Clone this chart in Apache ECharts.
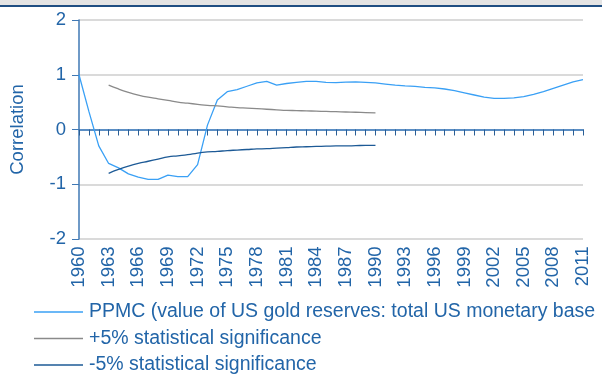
<!DOCTYPE html>
<html><head><meta charset="utf-8">
<script src="https://cdn.jsdelivr.net/npm/echarts@6/dist/echarts.min.js"></script>
<style>html,body{margin:0;padding:0;background:#fff}#c{width:602px;height:374px}</style>
</head><body><div id="c"></div>
<script>
var years = [];
for (var y = 1960; y <= 2011; y++) years.push(String(y));

var ppmc = [1.0, 0.33, -0.30, -0.62, -0.70, -0.81, -0.87, -0.91, -0.91, -0.835, -0.86, -0.86, -0.64, 0.08,
  0.54, 0.69, 0.73, 0.79, 0.85, 0.88, 0.81, 0.84, 0.86, 0.88, 0.878, 0.86, 0.855, 0.865, 0.87, 0.86,
  0.85, 0.83, 0.81, 0.795, 0.786, 0.77, 0.76, 0.74, 0.71, 0.67, 0.63, 0.59, 0.57, 0.57, 0.576, 0.60,
  0.64, 0.69, 0.75, 0.81, 0.87, 0.91];

var plus5 = [null, null, null, 0.81, 0.74, 0.68, 0.63, 0.59, 0.56, 0.53, 0.50, 0.48, 0.46, 0.44, 0.43,
  0.415, 0.40, 0.39, 0.38, 0.37, 0.36, 0.35, 0.345, 0.34, 0.335, 0.33, 0.325, 0.32, 0.315, 0.31, 0.305];

var minus5 = [null, null, null, -0.80, -0.73, -0.67, -0.62, -0.58, -0.54, -0.50, -0.48, -0.46, -0.43,
  -0.41, -0.40, -0.385, -0.375, -0.365, -0.355, -0.35, -0.34, -0.33, -0.32, -0.315, -0.31, -0.305,
  -0.30, -0.30, -0.295, -0.29, -0.29];

var seriesNames = ['PPMC (value of US gold reserves: total US monetary base',
  '+5% statistical significance', '-5% statistical significance'];
var yTicks = { min: -2, max: 2, interval: 1 };

var FONT = "'Liberation Sans', Arial, Helvetica, sans-serif";
var LABEL = '#2265a8';

var chart = echarts.init(document.getElementById('c'), null, { renderer: 'canvas' });
chart.setOption({
  animation: false,
  textStyle: { fontFamily: FONT },
  graphic: [
    { type: 'rect', shape: { x: 0, y: 0, width: 602, height: 5 }, style: { fill: '#e4e4e4' } },
    { type: 'rect', shape: { x: 0, y: 5, width: 602, height: 2 }, style: { fill: '#1f4e82' } }
  ],
  grid: { left: 77, right: 19, top: 20, bottom: 135, containLabel: false },
  legend: {
    orient: 'vertical', left: 34, top: 301, height: 80, padding: 0,
    icon: 'rect', itemWidth: 49, itemHeight: 1.3, itemGap: 4.5,
    textStyle: { fontFamily: FONT, fontSize: 19.5, color: LABEL, lineHeight: 22, padding: [0, 0, 0, 1] },
    data: seriesNames
  },
  xAxis: [
    {
      type: 'category', data: years, boundaryGap: false, position: 'bottom',
      axisLine: { show: true, onZero: true, lineStyle: { color: '#5b8ec4', width: 2 } },
      axisTick: { show: true, interval: 0, length: 6, lineStyle: { color: '#2a5e95', width: 1 } },
      axisLabel: { show: false }, splitLine: { show: false }
    },
    {
      type: 'category', data: years, boundaryGap: false, position: 'bottom',
      axisLine: { show: false, onZero: false }, axisTick: { show: false },
      axisLabel: { show: true, interval: 2, rotate: 90, fontSize: 18.5, color: LABEL, margin: 7.5, fontFamily: FONT },
      splitLine: { show: false }
    }
  ],
  yAxis: {
    type: 'value', min: yTicks.min, max: yTicks.max, interval: yTicks.interval,
    name: 'Correlation', nameLocation: 'middle', nameGap: 52, nameRotate: 90,
    nameTextStyle: { fontSize: 18.5, color: LABEL, fontFamily: FONT },
    axisLine: { show: true, lineStyle: { color: '#3f78b4', width: 1.5 } },
    axisTick: { show: true, length: 7, lineStyle: { color: '#3f78b4' } },
    axisLabel: { fontSize: 18.5, color: LABEL, margin: 13, fontFamily: FONT },
    splitLine: { show: true, lineStyle: { color: '#dadada', width: 2 } }
  },
  series: [
    { name: seriesNames[0], type: 'line', data: ppmc, xAxisIndex: 0, symbol: 'none', smooth: false,
      lineStyle: { color: '#3aa0f5', width: 1.3 }, itemStyle: { color: '#3aa0f5' } },
    { name: seriesNames[1], type: 'line', data: plus5, xAxisIndex: 0, symbol: 'none', smooth: true,
      lineStyle: { color: '#8a8a8a', width: 1.3 }, itemStyle: { color: '#8a8a8a' } },
    { name: seriesNames[2], type: 'line', data: minus5, xAxisIndex: 0, symbol: 'none', smooth: true,
      lineStyle: { color: '#1d5a96', width: 1.3 }, itemStyle: { color: '#1d5a96' } }
  ]
});
</script></body></html>
